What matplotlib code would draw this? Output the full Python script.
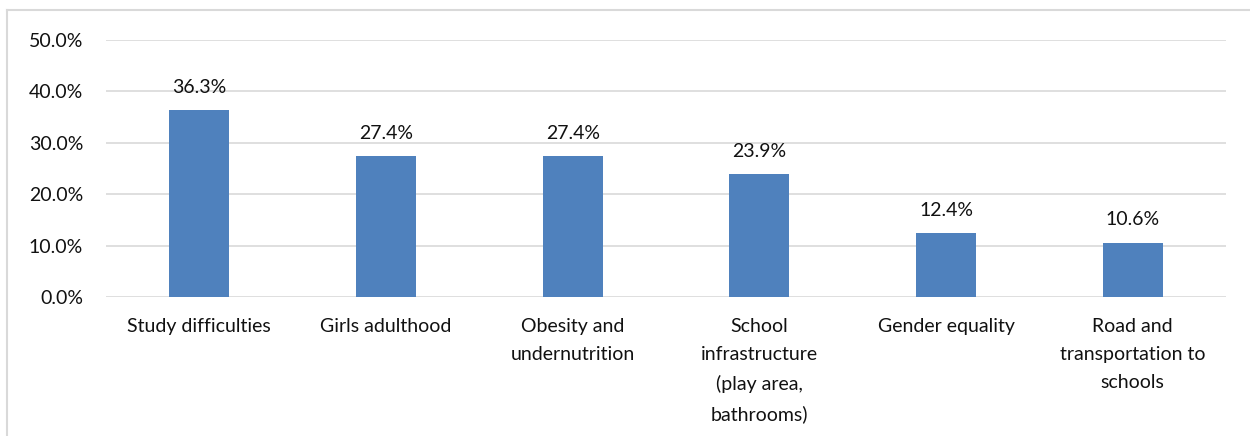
import matplotlib
matplotlib.use("Agg")
import matplotlib.pyplot as plt
from matplotlib.lines import Line2D

categories = ["Study difficulties", "Girls adulthood", "Obesity and\nundernutrition",
              "School\ninfrastructure\n(play area,\nbathrooms)", "Gender equality",
              "Road and\ntransportation to\nschools"]
values = [36.3, 27.4, 27.4, 23.9, 12.4, 10.6]
yticks = [0, 10, 20, 30, 40, 50]

plt.rcParams['font.family'] = ['Lato', 'DejaVu Sans']
W, H = 1250, 436
fig = plt.figure(figsize=(W/100, H/100), dpi=100)
fig.lines.append(Line2D([6.5/W, 1], [(H-10.5)/H]*2, transform=fig.transFigure,
                        color='#d9d9d9', linewidth=1.5))
fig.lines.append(Line2D([6.5/W]*2, [0, (H-10.5)/H], transform=fig.transFigure,
                        color='#d9d9d9', linewidth=1.5))
ax = fig.add_axes([106/W, (H-297)/H, (1226-106)/W, (297-40)/H])
x = list(range(len(categories)))
ax.bar(x, values, width=0.32, color='#4F81BD', zorder=3)
ax.set_xlim(-0.5, len(categories)-0.5)
ax.set_ylim(0, 50)
ax.set_yticks(yticks)
ax.set_yticklabels([f"{v:.1f}%" for v in yticks], fontsize=14)
ax.set_xticks(x)
ax.set_xticklabels(categories, fontsize=14, linespacing=1.8, va='top')
ax.tick_params(length=0, colors='#111111')
ax.tick_params(axis='x', pad=15)
ax.tick_params(axis='y', pad=16.5)
ax.yaxis.grid(True, color='#d9d9d9', linewidth=1.2, zorder=0)
for s in ax.spines.values():
    s.set_visible(False)
for xi, v in zip(x, values):
    ax.text(xi, v + 2.8, f"{v:.1f}%", ha='center', va='bottom', fontsize=14, color='#111111')
fig.savefig("out.png", dpi=100)
